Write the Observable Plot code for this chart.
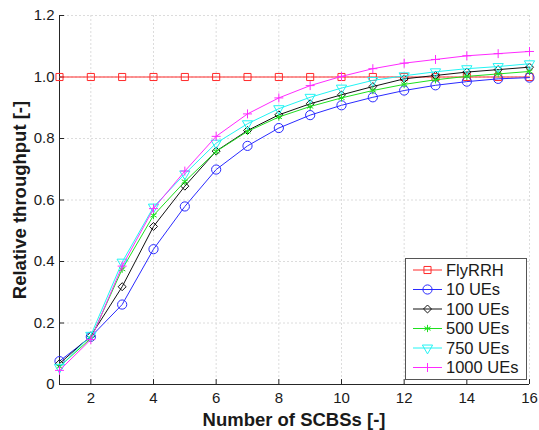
<!DOCTYPE html>
<html><head><meta charset="utf-8">
<script src="https://cdn.jsdelivr.net/npm/d3@7"></script>
<script src="https://cdn.jsdelivr.net/npm/@observablehq/plot@0.6"></script>
<style>
body{margin:0;background:#fff}
#chart{position:relative;width:539px;height:430px}
</style>
</head><body><div id="chart"></div>
<script>
// ---- data ----
const nSCBS = [1,2,3,4,5,6,7,8,9,10,11,12,13,14,15,16];
const seriesNames = ["FlyRRH","10 UEs","100 UEs","500 UEs","750 UEs","1000 UEs"];
const flyRRH = [1,1,1,1,1,1,1,1,1,1,1,1,1,1,1,1];
const ue10   = [0.076,0.155,0.260,0.440,0.579,0.699,0.776,0.834,0.876,0.908,0.934,0.956,0.973,0.985,0.994,0.998];
const ue100  = [0.068,0.158,0.318,0.514,0.645,0.759,0.826,0.877,0.913,0.942,0.969,0.994,1.005,1.016,1.024,1.032];
const ue500  = [0.058,0.150,0.375,0.550,0.660,0.758,0.823,0.870,0.904,0.932,0.956,0.976,0.991,1.002,1.010,1.018];
const ue750  = [0.056,0.160,0.398,0.577,0.685,0.785,0.848,0.897,0.934,0.964,0.989,1.004,1.017,1.027,1.034,1.043];
const ue1000 = [0.046,0.146,0.385,0.572,0.694,0.807,0.880,0.932,0.972,1.002,1.027,1.045,1.057,1.069,1.076,1.083];
const xTicks = [2,4,6,8,10,12,14,16];
const yTicks = [0,0.2,0.4,0.6,0.8,1.0,1.2];
const xLabel = "Number of SCBSs [-]";
const yLabel = "Relative throughput [-]";

// ---- styles ----
const colors  = ["#ff2a2a","#2a2aff","#111111","#1ee01e","#22f4f4","#ff2aff"];
const symbols = ["square","circle","diamond2","asterisk","triangle","plus"];
const rotates = [0,0,0,0,180,0];
const radii   = [4,4.6,3.6,3.4,3.8,3.0];
const allValues = [flyRRH, ue10, ue100, ue500, ue750, ue1000];

const series = seriesNames.map((name,k)=>({
  name, color: colors[k], symbol: symbols[k], rotate: rotates[k], r: radii[k],
  data: nSCBS.map((x,i)=>({x, y: allValues[k][i]}))
}));

const FONT = "'Liberation Sans', Arial, Helvetica, sans-serif";
const GRID = "#dcdcdc";
const marks = [
  Plot.gridX(xTicks, {stroke:GRID, strokeOpacity:1, strokeDasharray:"2,2"}),
  Plot.gridY(yTicks.filter(d=>d>0), {stroke:GRID, strokeOpacity:1, strokeDasharray:"2,2"}),
  Plot.ruleX(xTicks, {x:d=>d, y1:0, y2:0.016, stroke:"#262626"}),
  Plot.ruleY(yTicks, {y:d=>d, x1:1, x2:1.16, stroke:"#262626"}),
  Plot.ruleX([1], {stroke:"#262626"}),
  Plot.ruleY([0], {stroke:"#262626"}),
  Plot.axisX({ticks:xTicks, tickSize:0, tickPadding:8, fontSize:15, label:null, tickFormat:d=>String(d)}),
  Plot.axisY({ticks:yTicks, tickSize:0, tickPadding:5, fontSize:15, label:null, tickFormat:d=>d===0?"0":d.toFixed(1)})
];
for (const s of series) {
  marks.push(Plot.line(s.data, {x:"x", y:"y", stroke:s.color, strokeWidth:1}));
  marks.push(Plot.dot(s.data, {x:"x", y:"y", stroke:s.color, fill:"none", symbol:s.symbol, r:s.r, rotate:s.rotate, strokeWidth:1}));
}

const chart = Plot.plot({
  width:539, height:430,
  marginLeft:59, marginRight:10, marginTop:15, marginBottom:46,
  x:{domain:[1,16]},
  y:{domain:[0,1.2]},
  style:{fontFamily:FONT, background:"#fff", color:"#1a1a1a"},
  marks
});
document.getElementById("chart").appendChild(chart);

// ---- axis titles & legend ----
const svg = d3.select(chart);
svg.append("text").attr("x",294).attr("y",426).attr("text-anchor","middle")
  .attr("font-family",FONT).attr("font-size",18.5).attr("font-weight","bold").attr("fill","#1a1a1a").text(xLabel);
svg.append("text").attr("transform","translate(26,200) rotate(-90)").attr("text-anchor","middle")
  .attr("font-family",FONT).attr("font-size",18.5).attr("font-weight","bold").attr("fill","#1a1a1a").text(yLabel);

const symMap = {square:d3.symbolSquare, circle:d3.symbolCircle, diamond2:d3.symbolDiamond2, asterisk:d3.symbolAsterisk, triangle:d3.symbolTriangle, plus:d3.symbolPlus};
const lg = svg.append("g");
lg.append("rect").attr("x",405.5).attr("y",258.5).attr("width",121).attr("height",121)
  .attr("fill","#fff").attr("stroke","#555").attr("stroke-width",1);
series.forEach((s,i)=>{
  const y = 270 + 19.5*i;
  lg.append("line").attr("x1",413).attr("x2",442).attr("y1",y).attr("y2",y).attr("stroke",s.color).attr("stroke-width",1);
  lg.append("path").attr("d", d3.symbol(symMap[s.symbol], Math.PI*s.r*s.r)())
    .attr("transform",`translate(427.5,${y}) rotate(${s.rotate})`)
    .attr("fill","none").attr("stroke",s.color).attr("stroke-width",1);
  lg.append("text").attr("x",446).attr("y",y).attr("dy","0.35em").attr("text-anchor","start")
    .attr("font-family",FONT).attr("font-size",16.5).attr("fill","#1a1a1a").text(s.name);
});
</script>
</body></html>
